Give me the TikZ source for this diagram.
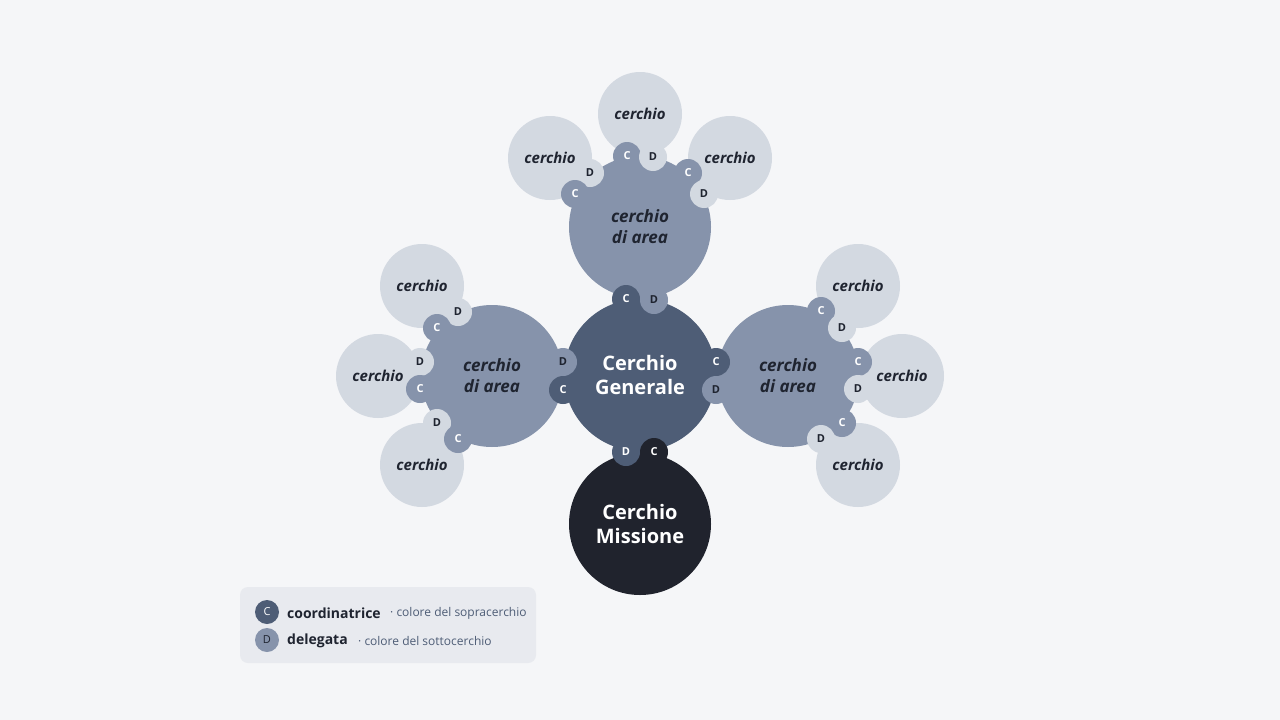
\documentclass[tikz,border=0pt]{standalone}
\usepackage{fontspec}
\setmainfont{Open Sans}
\usepackage{xcolor}
\usepackage{tikz}
\usetikzlibrary{positioning}

\definecolor{bgcol}{HTML}{F5F6F8}
\definecolor{gencol}{HTML}{4E5D76}
\definecolor{areacol}{HTML}{8693AB}
\definecolor{subcol}{HTML}{D3D9E1}
\definecolor{miscol}{HTML}{20232D}
\definecolor{inkcol}{HTML}{1F2430}
\definecolor{legcol}{HTML}{E8EAEF}

\begin{document}
\begin{tikzpicture}[x=1pt, y=-1pt,
  circ/.style={circle, inner sep=0pt, align=center},
  sub/.style={circ, fill=subcol, minimum size=84pt, text=inkcol,
    font=\fontsize{15}{17}\selectfont\bfseries\itshape},
  area/.style={circ, fill=areacol, minimum size=142pt, text=inkcol,
    font=\fontsize{17}{21}\selectfont\bfseries\itshape},
  big/.style={circ, minimum size=152pt, text=white,
    font=\fontsize{20}{24}\selectfont\bfseries},
  badge/.style={circ, minimum size=28pt, font=\fontsize{11}{12}\selectfont\bfseries},
  cgen/.style={badge, fill=gencol, text=white},
  carea/.style={badge, fill=areacol, text=white},
  dlight/.style={badge, fill=subcol, text=inkcol},
  darea/.style={badge, fill=areacol, text=inkcol},
  dgen/.style={badge, fill=gencol, text=white},
  cmis/.style={badge, fill=miscol, text=white},
  leg/.style={circ, minimum size=24pt, font=\fontsize{11}{12}\selectfont}
]
  \fill[bgcol] (0,0) rectangle (1280,720);
  \useasboundingbox (0,0) rectangle (1280,720);

  % sottocerchi
  \node[sub] (t1) at (640,114) {cerchio};
  \node[sub] (t2) at (550,158) {cerchio};
  \node[sub] (t3) at (730,158) {cerchio};
  \node[sub] (l1) at (422,286) {cerchio};
  \node[sub] (l2) at (378,376) {cerchio};
  \node[sub] (l3) at (422,465) {cerchio};
  \node[sub] (r1) at (858,286) {cerchio};
  \node[sub] (r2) at (902,376) {cerchio};
  \node[sub] (r3) at (858,465) {cerchio};

  % cerchi di area
  \node[area] (atop) at (640,227) {cerchio\\di area};
  \node[area] (aleft) at (492,376) {cerchio\\di area};
  \node[area] (aright) at (788,376) {cerchio\\di area};

  % cerchi principali
  \node[big, fill=gencol] (gen) at (640,375) {Cerchio\\Generale};
  \node[big, fill=miscol, minimum size=142pt] (mis) at (640,524) {Cerchio\\Missione};

  % collegamenti generale
  \node[cgen] (cg1) at (626,299) {C};
  \node[darea] (dg1) at (654,300) {D};
  \node[darea] (dg2) at (563,362) {D};
  \node[cgen] (cg2) at (563,390) {C};
  \node[cgen] (cg3) at (716,362) {C};
  \node[darea] (dg3) at (716,390) {D};
  \node[dgen] (dg4) at (626,452) {D};
  \node[cmis] (cm4) at (654,452) {C};

  % collegamenti area in alto
  \node[carea] (ct1) at (627,156) {C};
  \node[dlight] (dt1) at (653,157) {D};
  \node[dlight] (dt2) at (590,173) {D};
  \node[carea] (ct2) at (575,194) {C};
  \node[carea] (ct3) at (688,173) {C};
  \node[dlight] (dt3) at (704,194) {D};

  % collegamenti area a sinistra
  \node[dlight] (dl1) at (458,312) {D};
  \node[carea] (cl1) at (437,328) {C};
  \node[dlight] (dl2) at (420,362) {D};
  \node[carea] (cl2) at (420,389) {C};
  \node[dlight] (dl3) at (437,423) {D};
  \node[carea] (cl3) at (458,439) {C};

  % collegamenti area a destra
  \node[carea] (cr1) at (821,311) {C};
  \node[dlight] (dr1) at (842,328) {D};
  \node[carea] (cr2) at (858,362) {C};
  \node[dlight] (dr2) at (858,389) {D};
  \node[carea] (cr3) at (842,423) {C};
  \node[dlight] (dr3) at (821,439) {D};

  % legenda
  \fill[legcol, rounded corners=8pt] (240,587) rectangle (536,663);
  \node[leg, fill=gencol, text=white] (lc) at (267,612) {C};
  \node[leg, fill=areacol, text=inkcol] (ld) at (267,640) {D};
  \node[anchor=west, inner sep=0pt, text=inkcol,
    font=\fontsize{14}{16}\selectfont\bfseries] (lct) at (287,613) {coordinatrice};
  \node[anchor=west, inner sep=0pt, text=inkcol,
    font=\fontsize{14}{16}\selectfont\bfseries] (ldt) at (287,641) {delegata};
  \node[anchor=west, inner sep=0pt, text=gencol,
    font=\fontsize{12}{14}\selectfont] at (390,613) {· colore del sopracerchio};
  \node[anchor=west, inner sep=0pt, text=gencol,
    font=\fontsize{12}{14}\selectfont] at (358,641) {· colore del sottocerchio};
\end{tikzpicture}
\end{document}
